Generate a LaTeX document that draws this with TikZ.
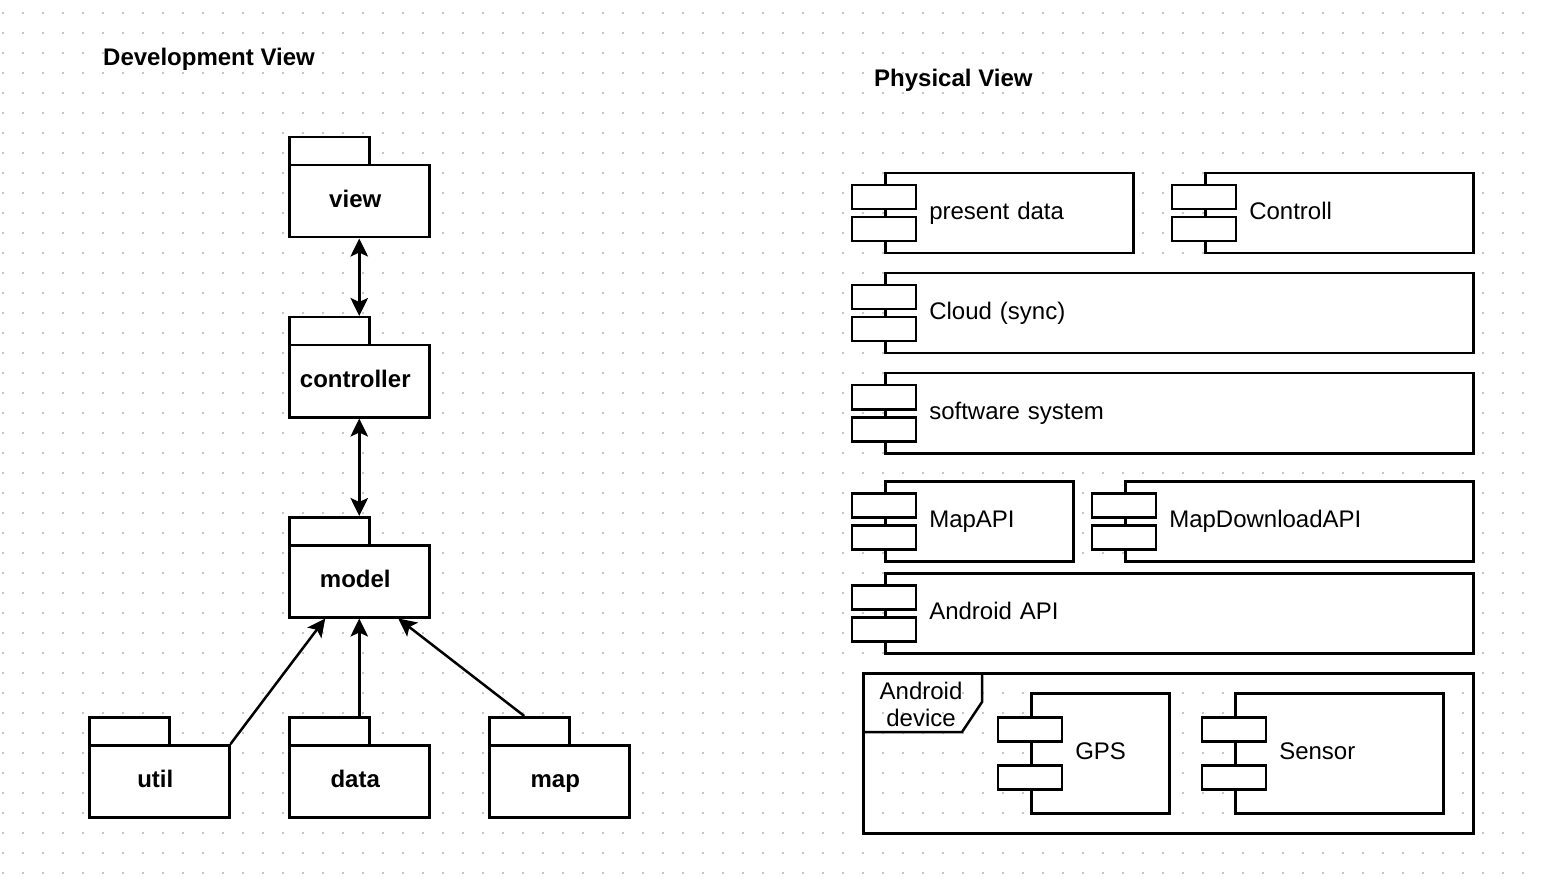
\documentclass[tikz,border=0pt]{standalone}
\usepackage{fontspec}
\setmainfont{Liberation Sans}
\usetikzlibrary{arrows.meta,calc}
\newcommand{\cicons}[2]{%
  \draw[icon] ($(#1.west)+(-32,-#2-12)$) rectangle ++(64,24);
  \draw[icon] ($(#1.west)+(-32,#2-12)$) rectangle ++(64,24);}
\begin{document}
\begin{tikzpicture}[x=1pt,y=-1pt,
  lw/.style={line width=2.5pt},
  pkg/.style={draw, lw, fill=white, minimum width=140pt, minimum height=72pt, anchor=north west,
    font=\fontsize{24}{28}\selectfont\bfseries, text height=17pt, text depth=5pt, inner sep=0pt,
    execute at begin node={\hspace*{-8pt}}},
  pkgtab/.style={draw, lw, fill=white, minimum width=80pt, minimum height=28pt, anchor=north west, inner sep=0pt},
  comp/.style={draw, lw, fill=white, minimum height=80pt, anchor=north west, inner xsep=44pt, inner ysep=0pt,
    align=left, font=\fontsize{24}{28}\selectfont, text height=17pt, text depth=5pt},
  icon/.style={draw, lw, fill=white},
  arr/.style={lw, -{Stealth[length=18pt,width=17.5pt,inset=4pt]}},
  darr/.style={lw, {Stealth[length=18pt,width=17.5pt,inset=4pt]}-{Stealth[length=18pt,width=17.5pt,inset=4pt]}},
  title/.style={anchor=base west, font=\fontsize{24}{28}\selectfont\bfseries, inner sep=0pt}
]
\useasboundingbox[fill=white] (0,0) rectangle (1542,882);
% grid dots
\foreach \x in {3,23,...,1523}{
  \foreach \y in {13,33,...,873}{
    \fill[black!22] (\x-0.7,\y-0.7) rectangle ++(1.4,1.4);
  }
}
\begin{scope}[shift={(-1,-1)}]
% titles
\node[title] (devview) at (104,67) {Development View};
\node[title] (physview) at (875,88) {Physical View};

% packages
\node[pkgtab] (viewT) at (289,137) {};
\node[pkg] (view) at (289,165) {view};
\node[pkgtab] (ctrlT) at (289,317) {};
\node[pkg] (ctrl) at (289,345) {controller};
\node[pkgtab] (modelT) at (289,517) {};
\node[pkg] (model) at (289,545) {model};
\node[pkgtab] (utilT) at (89,717) {};
\node[pkg] (util) at (89,745) {util};
\node[pkgtab] (dataT) at (289,717) {};
\node[pkg] (data) at (289,745) {data};
\node[pkgtab] (mapT) at (489,717) {};
\node[pkg] (map) at (489,745) {map};

% connectors
\draw[darr] (view.south) -- (view.south |- ctrlT.north);
\draw[darr] (ctrl.south) -- (ctrl.south |- modelT.north);
\draw[arr] (util.north east) -- ($(model.south)+(-34,0)$);
\draw[arr] (data.north |- dataT.north) -- (model.south);
\draw[arr] ($(mapT.north)+(-5,0)$) -- ($(model.south)+(39,0)$);

% physical view components
\node[comp, text width=160pt] (pd) at (885,173) {present data};
\cicons{pd}{16}
\node[comp, text width=180pt] (ctl) at (1205,173) {Controll};
\cicons{ctl}{16}
\node[comp, text width=500pt] (cloud) at (885,273) {Cloud (sync)};
\cicons{cloud}{16}
\node[comp, text width=500pt] (soft) at (885,373) {software system};
\cicons{soft}{16}
\node[comp, text width=100pt] (mapapi) at (885,481) {MapAPI};
\cicons{mapapi}{16}
\node[comp, text width=260pt] (mdl) at (1125,481) {MapDownloadAPI};
\cicons{mdl}{16}
\node[comp, text width=500pt] (aapi) at (885,573) {Android API};
\cicons{aapi}{16}

% android device frame
\node[draw, lw, minimum width=610pt, minimum height=160pt, anchor=north west, inner sep=0pt] (dev) at (863,673) {};
\draw[lw] ($(dev.north west)+(120,0)$) -- ++(0,30) -- ++(-20,30) -- ($(dev.north west)+(0,60)$);
\node[align=center, font=\fontsize{24}{27}\selectfont, inner sep=0pt] (devlabel) at (922,705) {Android\\device};

\node[comp, text width=50pt, minimum height=120pt] (gps) at (1031,693) {GPS};
\cicons{gps}{24}
\node[comp, text width=120pt, minimum height=120pt] (sensor) at (1235,693) {Sensor};
\cicons{sensor}{24}
\end{scope}
\end{tikzpicture}
\end{document}
